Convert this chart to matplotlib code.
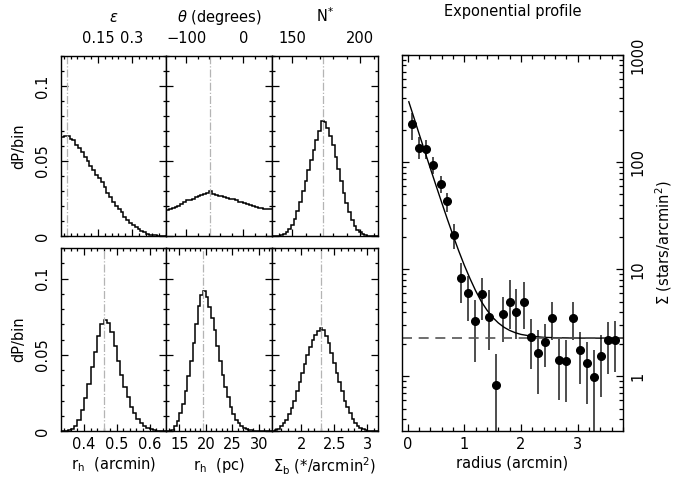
import matplotlib.pyplot as plt
import numpy as np
from matplotlib.ticker import MultipleLocator, LogLocator, NullFormatter, FuncFormatter

plt.rcParams.update({'font.size': 10.5, 'font.family': 'DejaVu Sans',
                     'mathtext.fontset': 'dejavusans', 'axes.linewidth': 1.0})

# ---- posterior histograms (dP/bin) ----
eps_edges = np.linspace(-0.0125, 0.45, 38)
eps_vals = [0.066, 0.067, 0.067, 0.065, 0.064, 0.061, 0.059, 0.056, 0.053, 0.050,
            0.047, 0.044, 0.041, 0.039, 0.036, 0.033, 0.029, 0.026, 0.023, 0.020,
            0.018, 0.016, 0.013, 0.011, 0.009, 0.0073, 0.0058, 0.0045, 0.0033, 0.0024,
            0.0016, 0.001, 0.0007, 0.0004, 0.0002, 0.0001, 0.0]

theta_edges = np.arange(-135, 51, 5)
theta_vals = [0.0175, 0.0178, 0.0185, 0.0192, 0.0200, 0.0212, 0.0225, 0.0238, 0.0243, 0.0250,
              0.0262, 0.0268, 0.0272, 0.0278, 0.0285, 0.0298, 0.0280, 0.0276, 0.0270, 0.0266,
              0.0262, 0.0255, 0.0250, 0.0244, 0.0238, 0.0230, 0.0225, 0.0218, 0.0212, 0.0205,
              0.0200, 0.0195, 0.0190, 0.0184, 0.0180, 0.0178, 0.0181]

nstar_edges = np.arange(135, 214, 2)
nstar_vals = [0, 0, 0.0002, 0.0006, 0.0012, 0.0025, 0.0045, 0.0075, 0.0115, 0.0165,
              0.0230, 0.0300, 0.0370, 0.0440, 0.0510, 0.0575, 0.0640, 0.0700, 0.0770, 0.0760,
              0.0720, 0.0670, 0.0610, 0.0530, 0.0450, 0.0370, 0.0290, 0.0220, 0.0160, 0.0110,
              0.0070, 0.0042, 0.0024, 0.0012, 0.0006, 0.0002, 0.0001, 0, 0]

rharc_edges = np.linspace(0.33, 0.65, 33)
rharc_vals = [0, 0.0002, 0.0006, 0.0015, 0.0035, 0.0075, 0.0135, 0.0215, 0.0310, 0.0420,
              0.0520, 0.0620, 0.0700, 0.0730, 0.0710, 0.0650, 0.0560, 0.0460, 0.0370, 0.0290,
              0.0220, 0.0160, 0.0115, 0.0080, 0.0055, 0.0036, 0.0022, 0.0012, 0.0006, 0.0003,
              0.0001, 0]

rhpc_edges = np.linspace(12.5, 32.5, 41)
rhpc_vals = [0, 0.0002, 0.0008, 0.0035, 0.0065, 0.0115, 0.0180, 0.0260, 0.0360, 0.0460,
             0.0580, 0.0700, 0.0820, 0.0890, 0.0915, 0.0880, 0.0810, 0.0740, 0.0660, 0.0560,
             0.0460, 0.0370, 0.0290, 0.0220, 0.0160, 0.0110, 0.0075, 0.0050, 0.0032, 0.0020,
             0.0012, 0.0008, 0.0005, 0.0003, 0.0002, 0.0001, 0, 0, 0, 0]

sigb_edges = np.linspace(1.56, 3.16, 41)
sigb_vals = [0, 0.0004, 0.0012, 0.0030, 0.0050, 0.0075, 0.0110, 0.0150, 0.0200, 0.0260,
             0.0320, 0.0380, 0.0440, 0.0500, 0.0550, 0.0595, 0.0630, 0.0655, 0.0675, 0.0660,
             0.0625, 0.0575, 0.0510, 0.0445, 0.0380, 0.0320, 0.0260, 0.0200, 0.0155, 0.0115,
             0.0080, 0.0055, 0.0035, 0.0022, 0.0012, 0.0006, 0.0003, 0.0001, 0, 0]

best = [0.013, -58, 172.5, 0.46, 19.5, 2.3]

# ---- radial profile ----
rad = [0.07, 0.20, 0.33, 0.44, 0.58, 0.70, 0.82, 0.94, 1.06, 1.19, 1.31, 1.44, 1.56, 1.68, 1.81,
       1.92, 2.05, 2.18, 2.30, 2.42, 2.55, 2.67, 2.79, 2.91, 3.04, 3.16, 3.29, 3.42, 3.54, 3.66]
sig = [226, 137, 132, 94, 62, 43, 20.7, 8.3, 6.05, 3.27, 5.9, 3.59, 0.84, 3.8, 4.95,
       4.0, 4.95, 2.33, 1.66, 2.09, 3.51, 1.44, 1.39, 3.51, 1.75, 1.34, 0.99, 1.55, 2.17, 2.17]
sig_hi = [285, 170, 160, 112, 74, 51.6, 26.3, 11.5, 8.6, 5.13, 8.3, 6.37, 1.63, 5.5, 7.9,
          6.6, 7.6, 3.46, 2.69, 3.1, 4.94, 2.25, 2.17, 4.94, 2.6, 2.09, 1.75, 2.42, 3.22, 3.33]
sig_lo = [161, 108, 108, 78, 51.6, 34.4, 15.6, 4.84, 3.33, 1.36, 3.39, 1.78, 0.1, 2.09, 2.79,
          2.25, 2.79, 1.18, 0.69, 1.22, 2.17, 0.60, 0.575, 2.17, 0.855, 0.556, 0.1, 0.64, 1.06, 1.1]

model_r = [0.02, 0.1, 0.2, 0.3, 0.4, 0.5, 0.6, 0.7, 0.8, 0.9, 1.0, 1.1, 1.2, 1.3, 1.4, 1.5,
           1.6, 1.7, 1.8, 1.9, 2.0, 2.2, 2.4, 2.6, 2.8, 3.0, 3.4, 3.8]
model_sig = [366, 271, 185, 127, 87.6, 60.6, 42.1, 29.4, 20.8, 14.9, 10.9, 8.2, 6.3, 5.0, 4.16,
             3.56, 3.16, 2.88, 2.69, 2.56, 2.47, 2.37, 2.32, 2.30, 2.29, 2.284, 2.28, 2.28]
background = 2.28

W, H = 678, 492
fig = plt.figure(figsize=(W / 100, H / 100), dpi=100)

def px_axes(x0, x1, y0, y1):
    return fig.add_axes([x0 / W, 1 - y1 / H, (x1 - x0) / W, (y1 - y0) / H])

cols = [61, 166, 272, 378]

panels = [
    (eps_edges, eps_vals, (-0.0125, 0.45), [0.15, 0.3], ['0.15', '0.3'], 0.03, r'$\epsilon$'),
    (theta_edges, theta_vals, (-135, 50), [-100, 0], ['\u2212100', '0'], 20, r'$\theta$ (degrees)'),
    (nstar_edges, nstar_vals, (135, 213), [150, 200], ['150', '200'], 10, r'N$^{*}$'),
    (rharc_edges, rharc_vals, (0.33, 0.65), [0.4, 0.5, 0.6], ['0.4', '0.5', '0.6'], 0.02,
     r'r$_\mathrm{h}$  (arcmin)'),
    (rhpc_edges, rhpc_vals, (12.5, 32.5), [15, 20, 25, 30], ['15', '20', '25', '30'], 1,
     r'r$_\mathrm{h}$  (pc)'),
    (sigb_edges, sigb_vals, (1.56, 3.16), [2, 2.5, 3], ['2', '2.5', '3'], 0.1,
     r'$\Sigma_\mathrm{b}$ (*/arcmin$^2$)'),
]

for i, (edges, vals, xlim, ticks, labels, minor, label) in enumerate(panels):
    top = i < 3
    c = i % 3
    if top:
        ax = px_axes(cols[c], cols[c + 1], 56, 236)
    else:
        ax = px_axes(cols[c], cols[c + 1], 248, 431)
    ax.stairs(vals, edges, baseline=None, color='k', lw=1.1)
    ax.axvline(best[i], color='#b4b4b4', ls='-.', lw=0.9)
    ax.set_xlim(xlim)
    ax.set_ylim(0, 0.12)
    ax.set_xticks(ticks)
    ax.set_xticklabels(labels)
    ax.xaxis.set_minor_locator(MultipleLocator(minor))
    ax.set_yticks([0, 0.05, 0.1])
    ax.set_yticklabels(['0', '0.05', '0.1'])
    ax.yaxis.set_minor_locator(MultipleLocator(0.01))
    ax.tick_params(which='both', direction='in', top=True, right=True, width=0.9)
    ax.tick_params(which='major', length=5)
    ax.tick_params(which='minor', length=2.5)
    if top:
        ax.tick_params(axis='x', labelbottom=False, labeltop=True, pad=7)
        ax.xaxis.set_label_position('top')
        ax.set_xlabel(label, labelpad=7)
    else:
        ax.tick_params(axis='x', pad=4)
        ax.set_xlabel(label, labelpad=3)
    if c == 0:
        ax.tick_params(axis='y', pad=8)
        plt.setp(ax.get_yticklabels(), rotation=90, va='center')
        ax.set_ylabel('dP/bin', labelpad=6)
    else:
        ax.tick_params(axis='y', labelleft=False)

# ---- exponential profile panel ----
ax = px_axes(402, 623, 55, 431)
ax.set_yscale('log')
sig_a = np.array(sig)
yerr = [sig_a - np.array(sig_lo), np.array(sig_hi) - sig_a]
ax.errorbar(rad, sig, yerr=yerr, fmt='o', color='k', ecolor='#3f3f3f', ms=5.5,
            elinewidth=1.3, capsize=0)
ax.plot(model_r, model_sig, color='k', lw=1.0)
ax.axhline(background, color='#555555', ls=(0, (6, 4)), lw=1.2)
ax.set_xlim(-0.1, 3.8)
ax.set_ylim(0.31, 1000)
ax.xaxis.set_major_locator(MultipleLocator(1))
ax.xaxis.set_minor_locator(MultipleLocator(0.2))
ax.yaxis.set_major_locator(LogLocator(base=10))
ax.yaxis.set_minor_locator(LogLocator(base=10, subs=range(2, 10)))
ax.yaxis.set_major_formatter(FuncFormatter(lambda v, p: f'{v:g}'))
ax.yaxis.set_minor_formatter(NullFormatter())
ax.tick_params(which='both', direction='in', top=True, right=True, left=True,
               labelleft=False, labelright=True, width=0.9)
ax.tick_params(which='major', length=5)
ax.tick_params(which='minor', length=3)
ax.tick_params(axis='x', pad=4)
ax.tick_params(axis='y', pad=5)
plt.setp(ax.get_yticklabels(), rotation=90, va='center')
ax.yaxis.set_label_position('right')
ax.set_ylabel(r'$\Sigma$ (stars/arcmin$^2$)', labelpad=6)
ax.set_xlabel('radius (arcmin)', labelpad=3)
ax.set_title('Exponential profile', pad=28, fontsize=10.5)

plt.savefig('out.png', dpi=100)
